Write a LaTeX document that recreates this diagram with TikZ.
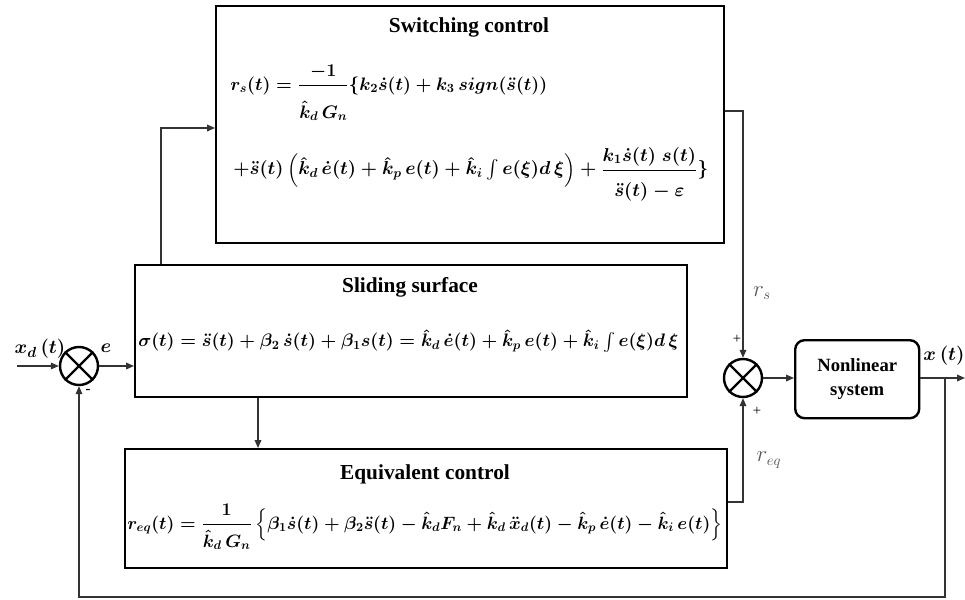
\documentclass[tikz,border=0pt]{standalone}
\usepackage{amsmath}
\usepackage{graphicx}
\usepackage{fontspec}
\setmainfont{Liberation Serif}[BoldFont={Liberation Serif Bold},ItalicFont={Liberation Serif Italic}]
\newfontfamily\serifb{Liberation Serif Bold}
\usetikzlibrary{arrows.meta,calc}
\newlength\pxu
\setlength\pxu{0.75pt}
\tikzset{
  blk/.style={draw, line width=1.5pt, inner sep=0pt, anchor=north west},
  ttl/.style={font=\fontsize{16pt}{18pt}\serifb, inner sep=0pt},
  eqn/.style={font=\fontsize{14pt}{17pt}\selectfont\boldmath, inner sep=0pt, anchor=west},
  sumj/.style={draw, circle, line width=1.8pt, minimum size=38*0.75pt, inner sep=0pt},
  conn/.style={line width=1pt, black!80, -{Triangle[length=6pt,width=5pt]}},
  lbl/.style={font=\fontsize{15pt}{17pt}\selectfont\boldmath, inner sep=0pt},
  glbl/.style={font=\fontsize{16pt}{18pt}\selectfont, text=black!65, inner sep=0pt},
  sgn/.style={font=\fontsize{11pt}{12pt}\selectfont, inner sep=0pt}
}
\begin{document}
\begin{tikzpicture}[x=0.75pt,y=-0.75pt]
\useasboundingbox (0,0) rectangle (965,600);
% blocks
\node[blk, minimum width=508*0.75pt, minimum height=237*0.75pt] (sw) at (215,5) {};
\node[blk, minimum width=552*0.75pt, minimum height=132*0.75pt] (sl) at (134,264) {};
\node[blk, minimum width=602*0.75pt, minimum height=119*0.75pt] (eq) at (124,448) {};
\node[blk, rounded corners=7pt, line width=1.8pt, minimum width=124*0.75pt, minimum height=78*0.75pt] (nl) at (794,339) {};
\node[font=\fontsize{14pt}{16pt}\serifb, align=center, inner sep=0pt] (nltxt) at (nl.center) {Nonlinear\\[2pt]system};
% titles
\node[ttl] (swt) at (469,27) {Switching control};
\node[ttl] (slt) at (410,287) {Sliding surface};
\node[ttl] (eqt) at (425,474) {Equivalent control};
% equations
\node[eqn] (sw1) at (230,93) {\resizebox{317\pxu}{!}{$r_s(t)=\dfrac{-1}{\rule{0pt}{24pt}\hat{k}_d\,G_n}\{k_2\dot{s}(t)+k_3\,sign(\ddot{s}(t))$}};
\node[eqn] (sw2) at (233,174) {\resizebox{475\pxu}{!}{$+\ddot{s}(t)\left(\hat{k}_d\,\dot{e}(t)+\hat{k}_p\,e(t)+\hat{k}_i\int e(\xi)d\,\xi\right)+\dfrac{k_1\dot{s}(t)\;s(t)}{\rule{0pt}{18pt}\ddot{s}(t)-\varepsilon}\}$}};
\node[eqn] (sle) at (138,341) {\resizebox{540\pxu}{!}{$\sigma(t)=\ddot{s}(t)+\beta_2\,\dot{s}(t)+\beta_1 s(t)=\hat{k}_d\,\dot{e}(t)+\hat{k}_p\,e(t)+\hat{k}_i\int e(\xi)d\,\xi$}};
\node[eqn] (eqe) at (127,527) {\resizebox{595\pxu}{!}{$r_{eq}(t)=\dfrac{1}{\rule{0pt}{16pt}\hat{k}_d\,G_n}\left\{\beta_1\dot{s}(t)+\beta_2\ddot{s}(t)-\hat{k}_d F_n+\hat{k}_d\,\ddot{x}_d(t)-\hat{k}_p\,\dot{e}(t)-\hat{k}_i\,e(t)\right\}$}};
% summing junctions
\node[sumj] (j1) at (79,366) {};
\draw[line width=1.8pt] (j1.north west) -- (j1.south east) (j1.north east) -- (j1.south west);
\node[sumj] (j2) at (743,378) {};
\draw[line width=1.8pt] (j2.north west) -- (j2.south east) (j2.north east) -- (j2.south west);
% coordinates
\coordinate (in) at (17,366);
\coordinate (out) at (965,378);
\coordinate (br) at (945,378);
\coordinate (fb) at (945,597);
% connectors
\draw[conn] (in) -- (j1.west);
\draw[conn] (j1.east) -- (j1.east -| sl.west);
\draw[conn] ($(sl.north west)+(27,0)$) |- ($(sw.north west)+(0,123)$);
\draw[conn] ($(sw.north east)+(0,106)$) -| (j2.north);
\coordinate (d1) at ($(sl.south west)+(124,0)$);
\draw[conn] (d1) -- (d1 |- eq.north);
\draw[conn] ($(eq.north east)+(0,54)$) -| (j2.south);
\draw[conn] (j2.east) -- (j2.east -| nl.west);
\draw[conn] (nl.east |- br) -- (out);
\draw[conn] (br) -- (fb) -| (j1.south);
% labels
\node[lbl] (xd) at (40,349) {$x_d\,(t)$};
\node[lbl] (el) at (106,348) {$e$};
\node[sgn] (m1) at (88,391) {\textbf{-}};
\node[glbl] (rs) at (762,293) {$r_s$};
\node[sgn] (p1) at (737,339) {+};
\node[sgn] (p2) at (757,411) {+};
\node[glbl] (req) at (769,460) {$r_{eq}$};
\node[lbl] (xt) at (944,356) {$x\,(t)$};
\end{tikzpicture}
\end{document}
